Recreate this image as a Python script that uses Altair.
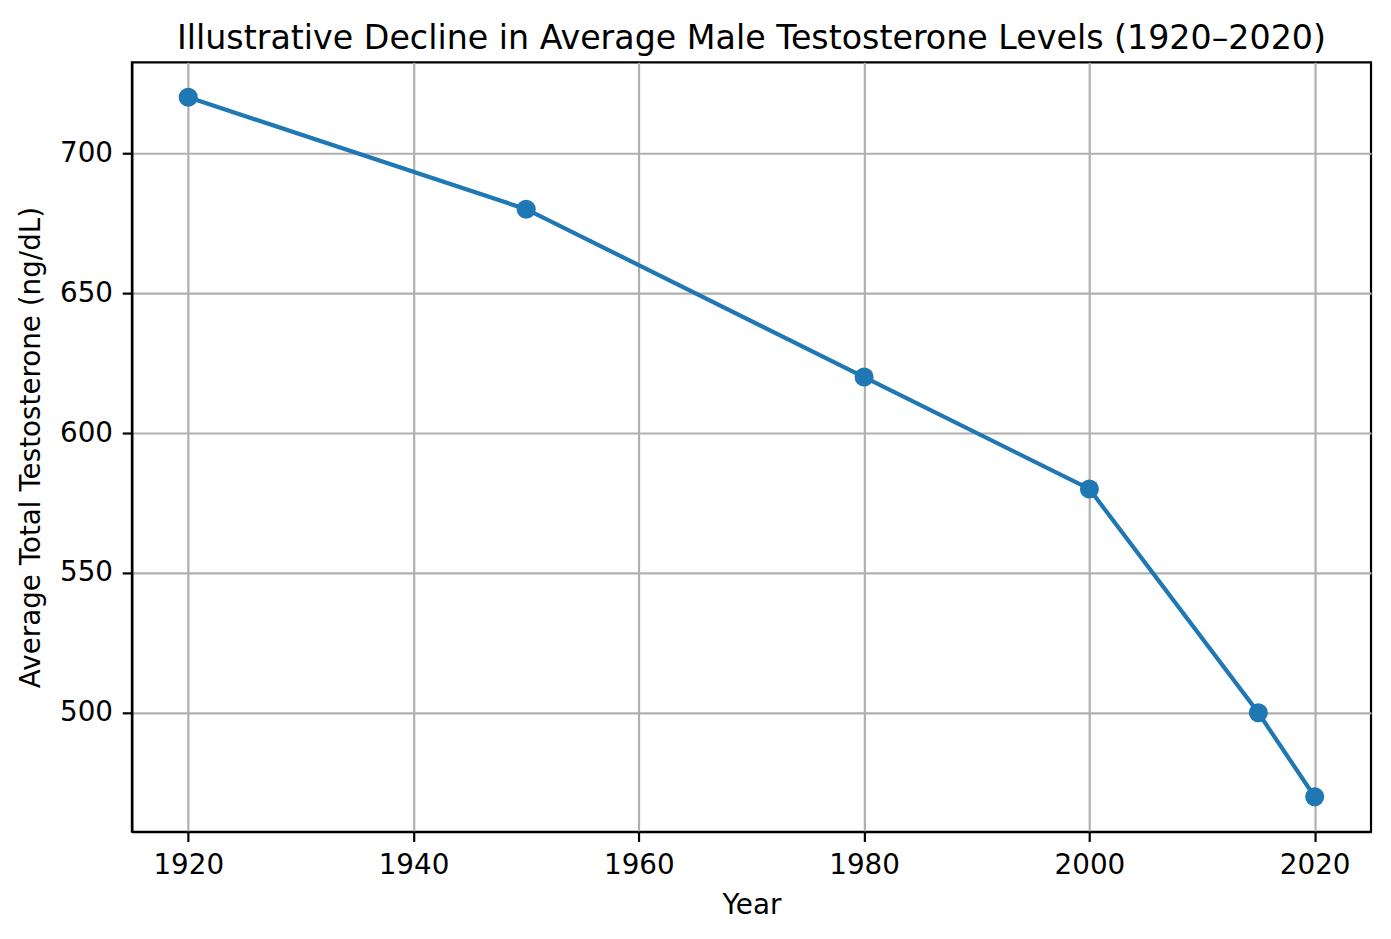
import altair as alt
import pandas as pd

years = [1920, 1950, 1980, 2000, 2015, 2020]
levels = [720, 680, 620, 580, 500, 470]
x_ticks = [1920, 1940, 1960, 1980, 2000, 2020]
y_ticks = [500, 550, 600, 650, 700]

df = pd.DataFrame({"Year": years, "Level": levels})

FONT = "DejaVu Sans"
BLUE = "#1f77b4"

x = alt.X(
    "Year:Q",
    scale=alt.Scale(domain=[1915, 2025], nice=False, zero=False),
    axis=alt.Axis(
        title="Year",
        values=x_ticks,
        format="d",
        titleBaseline="alphabetic",
        titleY=81.6,
    ),
)
y = alt.Y(
    "Level:Q",
    scale=alt.Scale(domain=[457.5, 732.5], nice=False, zero=False),
    axis=alt.Axis(
        title="Average Total Testosterone (ng/dL)",
        values=y_ticks,
        format="d",
        titleBaseline="alphabetic",
        titleX=-92.3,
        titleY=385,
    ),
)

line = alt.Chart(df).mark_line(color=BLUE, strokeWidth=4.2).encode(x=x, y=y)
pts = alt.Chart(df).mark_circle(color=BLUE, size=365, opacity=1).encode(x=x, y=y)

chart = (
    alt.layer(line, pts)
    .properties(
        width=1240,
        height=770,
        title=alt.TitleParams(
            "Illustrative Decline in Average Male Testosterone Levels (1920\u20132020)",
            font=FONT,
            fontSize=33.3,
            fontWeight="normal",
            color="#000000",
            baseline="alphabetic",
            offset=-20.3,
            anchor="middle",
        ),
        autosize=alt.AutoSizeParams(type="none"),
        padding={"left": 124, "top": 54, "right": 12, "bottom": 90},
    )
    .configure_view(stroke="#000000", strokeWidth=2.2)
    .configure_axis(
        labelFont=FONT,
        titleFont=FONT,
        labelFontSize=27.8,
        titleFontSize=27.8,
        titleFontWeight="normal",
        labelColor="#000000",
        titleColor="#000000",
        domainColor="#000000",
        domainWidth=2.2,
        tickColor="#000000",
        tickWidth=2.2,
        tickSize=9.7,
        labelPadding=9.7,
        grid=True,
        gridColor="#b0b0b0",
        gridWidth=2.2,
        gridOpacity=1,
        labelFlush=False,
        labelOverlap=False,
    )
)

chart.save("out.html", embed_options={"renderer": "svg", "actions": False})
